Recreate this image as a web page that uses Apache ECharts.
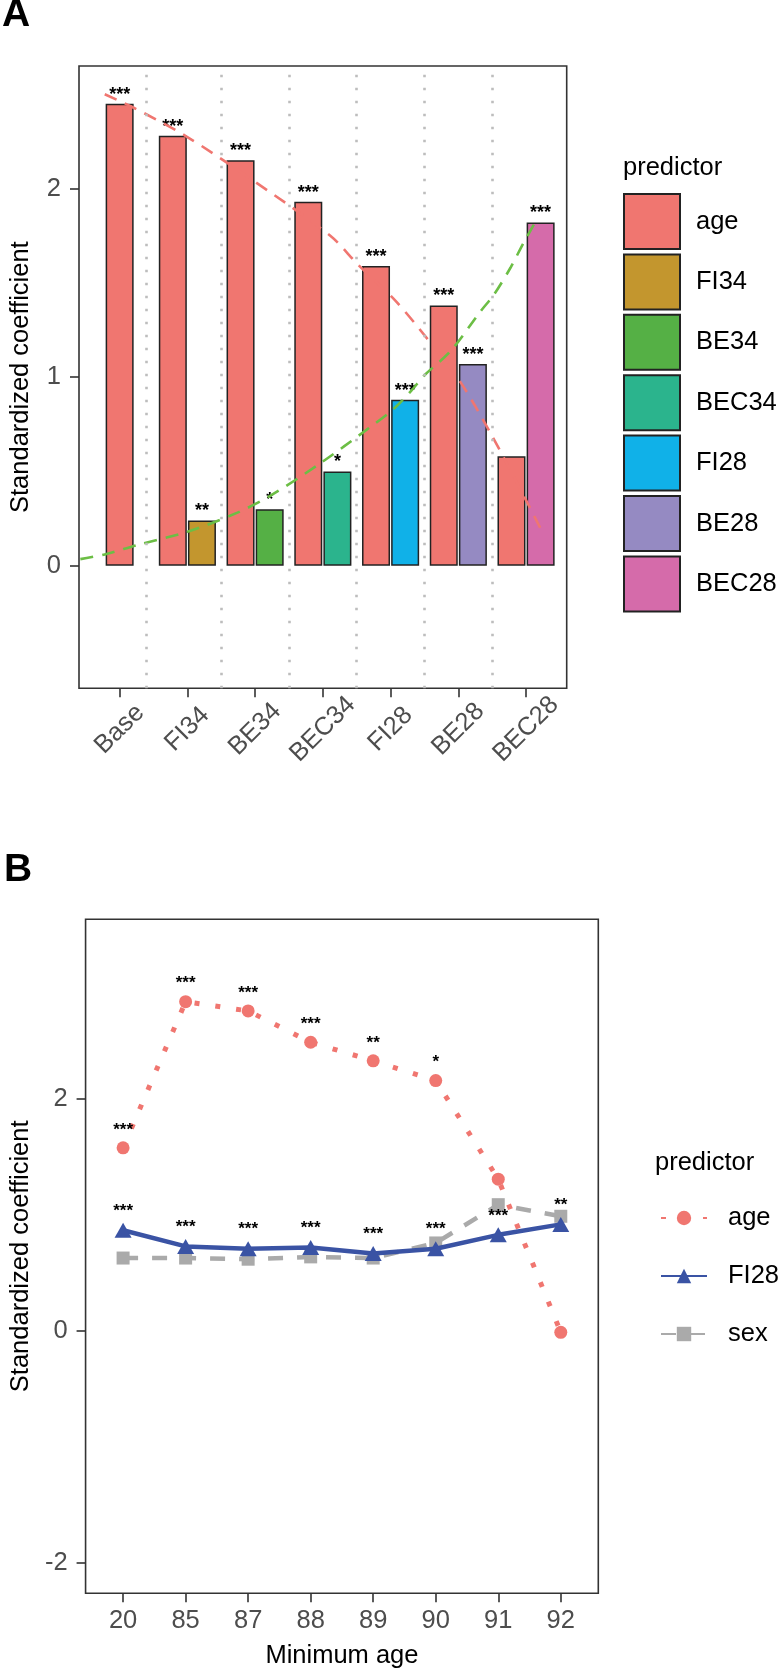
<!DOCTYPE html>
<html>
<head>
<meta charset="utf-8">
<script src="https://cdn.jsdelivr.net/npm/echarts@6/dist/echarts.min.js"></script>
<style>
  html, body { margin: 0; padding: 0; background: #ffffff; }
  #chart { width: 780px; height: 1675px; }
</style>
</head>
<body>
<div id="chart"></div>
<script>
// ---------- Panel A data ----------
const categoriesA = ['Base', 'FI34', 'BE34', 'BEC34', 'FI28', 'BE28', 'BEC28'];
const predictorsA = ['age', 'FI34', 'BE34', 'BEC34', 'FI28', 'BE28', 'BEC28'];
const ageCoefA = [2.45, 2.28, 2.15, 1.93, 1.59, 1.38, 0.58];
const ageSigA = ['***', '***', '***', '***', '***', '***', ''];
const otherCoefA = [null, 0.24, 0.30, 0.50, 0.88, 1.07, 1.82];
const otherSigA = ['', '**', '*', '*', '***', '***', '***'];
const ageTrendX = [-0.22, 0.2, 0.97, 1.94, 3.11, 3.51, 4.06, 4.55, 5.02, 5.48, 6.01, 6.21];
const ageTrendY = [2.50, 2.43, 2.28, 2.05, 1.75, 1.60, 1.41, 1.20, 0.98, 0.70, 0.34, 0.20];
const otherTrendX = [-0.58, -0.22, 0.26, 1.0, 1.73, 2.22, 2.95, 3.68, 4.04, 4.31, 4.5, 4.89, 5.33, 5.53, 5.77, 5.96, 6.18];
const otherTrendY = [0.035, 0.06, 0.11, 0.18, 0.28, 0.37, 0.54, 0.73, 0.83, 0.93, 1.01, 1.14, 1.35, 1.44, 1.58, 1.71, 1.85];
const separatorsA = [0.4, 1.5, 2.5, 3.5, 4.5, 5.5];
const yTicksA = [0, 1, 2];

// ---------- Panel B data ----------
const minAgeB = ['20', '85', '87', '88', '89', '90', '91', '92'];
const ageB = [1.58, 2.84, 2.76, 2.49, 2.33, 2.16, 1.31, -0.01];
const ageSigB = ['***', '***', '***', '***', '**', '*', '', ''];
const fi28B = [0.87, 0.73, 0.71, 0.72, 0.67, 0.71, 0.83, 0.92];
const fi28SigB = ['***', '***', '***', '***', '***', '***', '***', '**'];
const sexB = [0.63, 0.63, 0.62, 0.64, 0.63, 0.76, 1.09, 0.99];
const yTicksB = [-2, 0, 2];

// ---------- styles ----------
const FONT = "'Liberation Sans', Arial, sans-serif";
const colorsA = ['#F07670', '#C3962E', '#55B045', '#2BB48D', '#10B1E8', '#958AC2', '#D56BAA'];
const DODGE = 0.215;
const tickColor = '#333333';
const labelColor = '#4D4D4D';

const chart = echarts.init(document.getElementById('chart'), null, { renderer: 'canvas' });

function barData(k) {
  if (k === 0) {
    return ageCoefA.map((v, i) => [i === 0 ? 0 : i - DODGE, v]);
  }
  return [[k + DODGE, otherCoefA[k]]];
}
function barSig(k, idx) {
  return k === 0 ? ageSigA[idx] : otherSigA[k];
}

const series = [];
// separators (dotted vertical lines)
series.push({
  type: 'line', xAxisIndex: 0, yAxisIndex: 0, data: [], z: 1, silent: true,
  markLine: {
    silent: true, symbol: ['none', 'none'], label: { show: false },
    lineStyle: { color: '#BDBDBD', width: 2.6, type: [2.6, 10.4] },
    data: separatorsA.map(x => ({ xAxis: x }))
  }
});
predictorsA.forEach((p, k) => {
  series.push({
    name: p, type: 'bar', xAxisIndex: 0, yAxisIndex: 0,
    barWidth: 28, barGap: '-100%',
    data: barData(k),
    itemStyle: { color: colorsA[k], borderColor: '#222222', borderWidth: 1.5 },
    label: {
      show: true, position: 'top', distance: 0,
      formatter: (pr) => barSig(k, pr.dataIndex),
      fontSize: 18, fontWeight: 'bold', color: '#000', fontFamily: FONT
    },
    z: 2
  });
});
series.push({
  type: 'line', xAxisIndex: 0, yAxisIndex: 0, smooth: 0.3, showSymbol: false, silent: true,
  data: ageTrendX.map((x, i) => [x, ageTrendY[i]]),
  lineStyle: { color: '#F07670', width: 2.6, type: [13, 9] }, z: 3
});
series.push({
  type: 'line', xAxisIndex: 0, yAxisIndex: 0, smooth: 0.3, showSymbol: false, silent: true,
  data: otherTrendX.map((x, i) => [x, otherTrendY[i]]),
  lineStyle: { color: '#6CBE45', width: 2.6, type: [13, 9] }, z: 3
});

const sigLabel = (arr) => ({
  show: true, position: 'top', distance: 3,
  formatter: (pr) => arr[pr.dataIndex],
  fontSize: 17, fontWeight: 'bold', color: '#000', fontFamily: FONT
});
series.push({
  name: 'B:age', type: 'line', xAxisIndex: 1, yAxisIndex: 1,
  data: ageB.map((v, i) => [i, v]),
  symbol: 'circle', symbolSize: 13,
  itemStyle: { color: '#F07670' },
  lineStyle: { color: '#F07670', width: 5, type: [5, 16] },
  label: sigLabel(ageSigB), z: 3
});
series.push({
  name: 'B:sex', type: 'line', xAxisIndex: 1, yAxisIndex: 1,
  data: sexB.map((v, i) => [i, v]),
  symbol: 'rect', symbolSize: 13,
  itemStyle: { color: '#AAAAAA' },
  lineStyle: { color: '#AAAAAA', width: 4.5, type: [15, 14] }, z: 3
});
series.push({
  name: 'B:FI28', type: 'line', xAxisIndex: 1, yAxisIndex: 1,
  data: fi28B.map((v, i) => [i, v]),
  symbol: 'triangle', symbolSize: [17, 15],
  itemStyle: { color: '#3A53A4' },
  lineStyle: { color: '#3A53A4', width: 4.5 },
  label: sigLabel(fi28SigB), z: 4
});

const tickLabelStyle = { color: labelColor, fontSize: 25.5, fontFamily: FONT };
const axisTick = (vals) => ({ show: true, length: 9, customValues: vals, lineStyle: { color: tickColor, width: 1.6 } });
const noLine = { show: false, onZero: false };

const option = {
  animation: false,
  backgroundColor: '#ffffff',
  textStyle: { fontFamily: FONT },
  title: [
    { text: 'A', left: 2, top: -4, padding: 0, textStyle: { fontSize: 39, fontWeight: 'bold', color: '#000', fontFamily: FONT, lineHeight: 39 } },
    { text: 'B', left: 4, top: 851, padding: 0, textStyle: { fontSize: 39, fontWeight: 'bold', color: '#000', fontFamily: FONT, lineHeight: 39 } },
    { text: 'predictor', left: 623, top: 153, padding: 0, textStyle: { fontSize: 25.5, fontWeight: 'normal', color: '#000', fontFamily: FONT, lineHeight: 30 } },
    { text: 'predictor', left: 655, top: 1148, padding: 0, textStyle: { fontSize: 25.5, fontWeight: 'normal', color: '#000', fontFamily: FONT, lineHeight: 30 } }
  ],
  legend: [
    {
      orient: 'vertical', left: 623, top: 193, padding: 0,
      data: predictorsA, icon: 'rect', itemWidth: 56, itemHeight: 55, itemGap: 3.4,
      selectedMode: false,
      textStyle: { fontSize: 25.5, color: '#000', fontFamily: FONT, padding: [0, 0, 0, 11] }
    },
    {
      orient: 'vertical', left: 660, top: 1203, padding: 0,
      data: ['B:age', 'B:FI28', 'B:sex'], itemWidth: 46, itemHeight: 18, itemGap: 28,
      selectedMode: false,
      formatter: (n) => n.replace('B:', ''),
      textStyle: { fontSize: 25.5, color: '#000', fontFamily: FONT, lineHeight: 30, padding: [0, 0, 0, 16] }
    }
  ],
  grid: [
    { left: 75, top: 66, width: 491.7, height: 622.3, show: true, borderColor: '#333', borderWidth: 1.6, backgroundColor: 'transparent', containLabel: false },
    { left: 83.3, top: 919.3, width: 515, height: 674, show: true, borderColor: '#333', borderWidth: 1.6, backgroundColor: 'transparent', containLabel: false }
  ],
  xAxis: [
    {
      type: 'value', gridIndex: 0, min: -0.6, max: 6.6, position: 'bottom',
      axisLine: noLine, splitLine: { show: false },
      axisTick: axisTick([0, 1, 2, 3, 4, 5, 6]),
      axisLabel: Object.assign({}, tickLabelStyle, {
        customValues: [0, 1, 2, 3, 4, 5, 6],
        formatter: (v) => categoriesA[Math.round(v)],
        rotate: 45, align: 'center', verticalAlign: 'middle', margin: 41
      })
    },
    {
      type: 'value', gridIndex: 1, min: -0.6, max: 7.6, position: 'bottom',
      axisLine: noLine, splitLine: { show: false },
      axisTick: axisTick([0, 1, 2, 3, 4, 5, 6, 7]),
      axisLabel: Object.assign({}, tickLabelStyle, {
        customValues: [0, 1, 2, 3, 4, 5, 6, 7],
        formatter: (v) => minAgeB[Math.round(v)],
        margin: 15
      }),
      name: 'Minimum age', nameLocation: 'middle', nameGap: 50,
      nameTextStyle: { fontSize: 25.5, color: '#000', fontFamily: FONT }
    }
  ],
  yAxis: [
    {
      type: 'value', gridIndex: 0, min: -0.65, max: 2.65, position: 'left',
      axisLine: noLine, splitLine: { show: false },
      axisTick: axisTick(yTicksA),
      axisLabel: Object.assign({}, tickLabelStyle, { customValues: yTicksA, margin: 18 }),
      name: 'Standardized coefficient', nameLocation: 'middle', nameGap: 45,
      nameTextStyle: { fontSize: 25.5, color: '#000', fontFamily: FONT }
    },
    {
      type: 'value', gridIndex: 1, min: -2.26, max: 3.55, position: 'left',
      axisLine: noLine, splitLine: { show: false },
      axisTick: axisTick(yTicksB),
      axisLabel: Object.assign({}, tickLabelStyle, { customValues: yTicksB, margin: 18 }),
      name: 'Standardized coefficient', nameLocation: 'middle', nameGap: 50,
      nameTextStyle: { fontSize: 25.5, color: '#000', fontFamily: FONT }
    }
  ],
  series: series
};
chart.setOption(option);
</script>
</body>
</html>
